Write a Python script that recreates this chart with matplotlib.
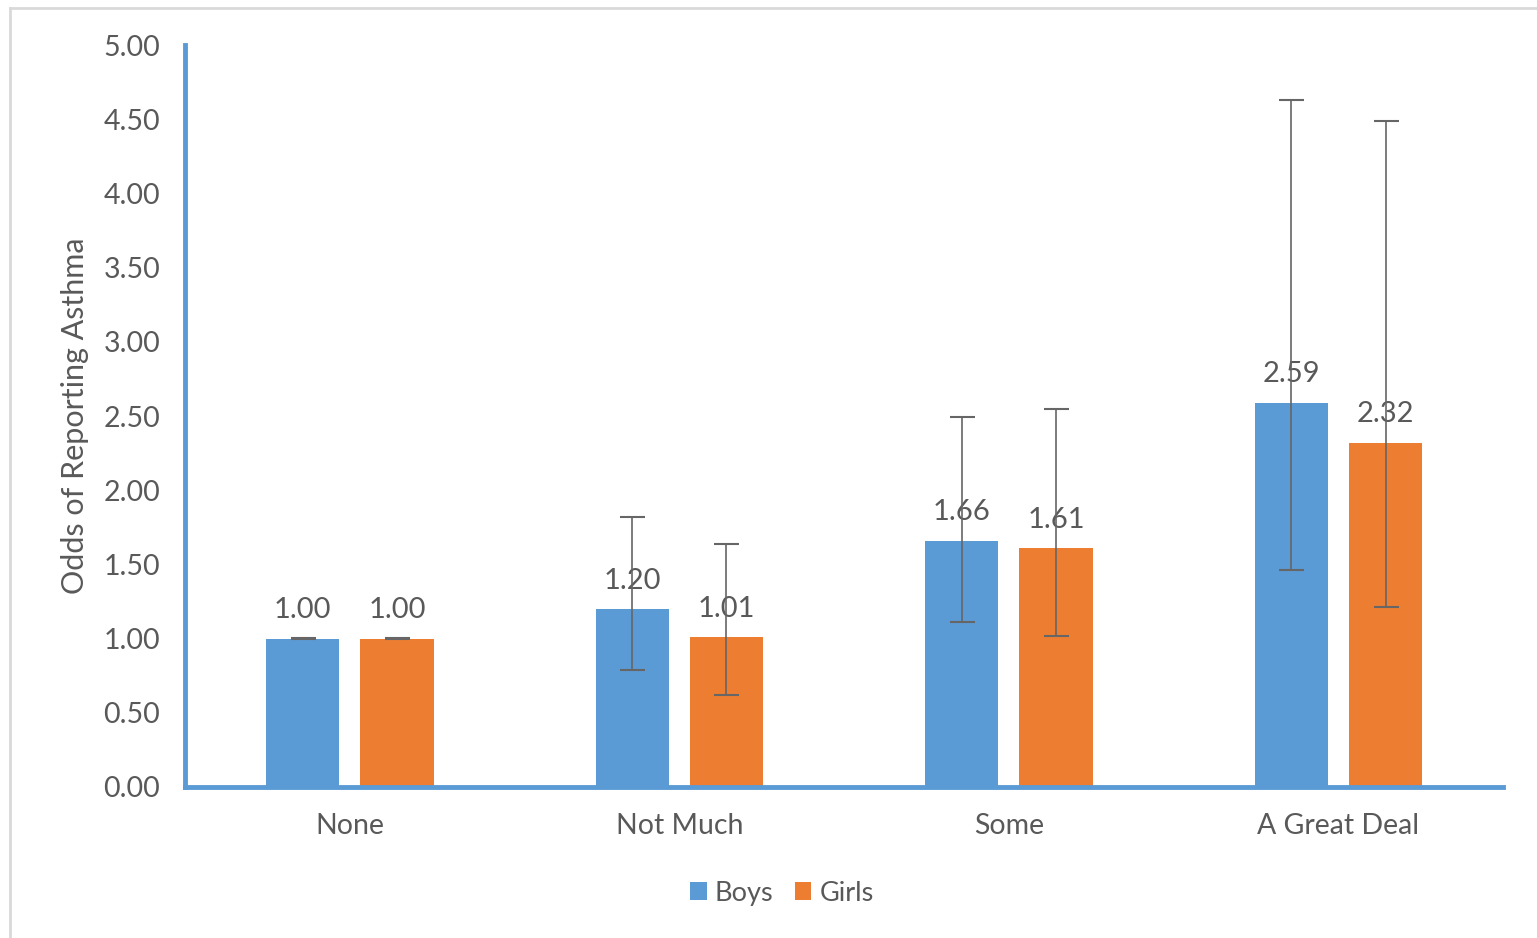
import numpy as np
import matplotlib.pyplot as plt
from matplotlib.lines import Line2D

plt.rcParams['font.family'] = ['Lato', 'DejaVu Sans']

categories = ["None", "Not Much", "Some", "A Great Deal"]
boys = [1.00, 1.20, 1.66, 2.59]
girls = [1.00, 1.01, 1.61, 2.32]
boys_low = [1.00, 0.79, 1.11, 1.46]
boys_high = [1.005, 1.82, 2.49, 4.63]
girls_low = [1.00, 0.62, 1.02, 1.21]
girls_high = [1.005, 1.64, 2.55, 4.49]

blue = '#5b9bd5'
orange = '#ed7d31'
text_grey = '#595959'

fig = plt.figure(figsize=(15.37, 9.38), dpi=100)
ax = fig.add_axes([0.1204, 0.161, 0.8576, 0.791])

# light grey chart frame (cut off at right and bottom)
fig.add_artist(Line2D([10/1537, 10/1537], [0, 1 - 8/938], transform=fig.transFigure,
                      color='#d9d9d9', lw=2))
fig.add_artist(Line2D([10/1537, 1], [1 - 8/938, 1 - 8/938], transform=fig.transFigure,
                      color='#d9d9d9', lw=2))

x = np.arange(len(categories))
w = 0.222
off = 0.143

for vals, lo, hi, col, sign, lab in [(boys, boys_low, boys_high, blue, -1, 'Boys'),
                                      (girls, girls_low, girls_high, orange, 1, 'Girls')]:
    xs = x + sign * off
    ax.bar(xs, vals, width=w, color=col, label=lab, zorder=2)
    yerr = [np.array(vals) - np.array(lo), np.array(hi) - np.array(vals)]
    ax.errorbar(xs, vals, yerr=yerr, fmt='none', ecolor='#666666', elinewidth=1.2,
                capsize=9, capthick=1.5, zorder=4)
    for xi, v in zip(xs, vals):
        ax.annotate(f"{v:.2f}", (xi, v), xytext=(0, 11), textcoords='offset points',
                    ha='center', va='bottom', fontsize=21, color=text_grey, zorder=3)

ax.set_xlim(-0.5, 3.5)
ax.set_ylim(0, 5)
ax.set_yticks(np.arange(0, 5.01, 0.5))
ax.set_yticklabels([f"{t:.2f}" for t in np.arange(0, 5.01, 0.5)])
ax.set_xticks(x)
ax.set_xticklabels(categories)
ax.tick_params(axis='both', length=0, labelsize=20.5, labelcolor=text_grey)
ax.tick_params(axis='y', pad=18)
ax.tick_params(axis='x', pad=19)
ax.set_ylabel("Odds of Reporting Asthma", fontsize=22, color=text_grey, labelpad=10)

for s in ['top', 'right']:
    ax.spines[s].set_visible(False)
ax.spines['left'].set_color(blue)
ax.spines['left'].set_linewidth(3.5)
ax.spines['bottom'].set_color(blue)
ax.spines['bottom'].set_linewidth(3.5)

leg = fig.legend(loc='center', bbox_to_anchor=(782/1537, 1 - 893/938), ncol=2,
                 frameon=False, fontsize=19.5, handlelength=0.6, handleheight=0.6,
                 handletextpad=0.3, columnspacing=0.8)
for t in leg.get_texts():
    t.set_color(text_grey)

fig.savefig('out.png', dpi=100)
